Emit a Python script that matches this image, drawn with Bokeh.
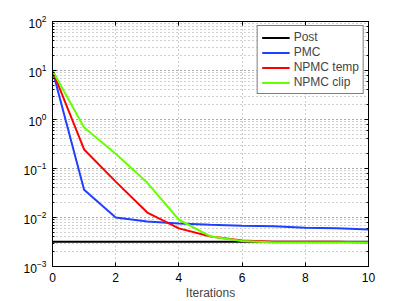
from bokeh.plotting import figure
from bokeh.models import LogAxis, LinearAxis, FixedTicker, Legend, LegendItem
from bokeh.embed import file_html
from bokeh.resources import INLINE

iterations = [0, 1, 2, 3, 4, 5, 6, 7, 8, 9, 10]
post = [0.0032] * 11
pmc = [10, 0.037, 0.010, 0.0083, 0.0075, 0.0071, 0.0068, 0.0066, 0.0062, 0.0060, 0.0057]
npmc_temp = [10, 0.245, 0.054, 0.0126, 0.0060, 0.0041, 0.0034, 0.0032, 0.0032, 0.0032, 0.0031]
npmc_clip = [10, 0.69, 0.20, 0.051, 0.0090, 0.0041, 0.0033, 0.0031, 0.0031, 0.0031, 0.0031]
x_ticks = [0, 2, 4, 6, 8, 10]

FONT = "Liberation Sans"

p = figure(width=391, height=290, y_axis_type="log", x_range=(0, 10), y_range=(1e-3, 1e2),
           output_backend="svg", toolbar_location=None,
           frame_width=316, frame_height=245,
           min_border_left=52, min_border_top=21, min_border_right=10, min_border_bottom=10)
p.outline_line_color = "black"
p.outline_line_width = 1
p.background_fill_color = "white"
p.border_fill_color = "white"

# grids
p.xgrid.grid_line_color = "#a0a0a0"
p.xgrid.grid_line_dash = "1 3"
p.xgrid.ticker = FixedTicker(ticks=x_ticks)
p.ygrid.grid_line_color = "#a0a0a0"
p.ygrid.grid_line_dash = "1 3"
p.ygrid.minor_grid_line_color = "#a0a0a0"
p.ygrid.minor_grid_line_dash = "1 3"

def style_axis(ax, labels=True):
    ax.axis_line_color = "black"
    ax.major_tick_in = 4
    ax.major_tick_out = 0
    ax.minor_tick_in = 2
    ax.minor_tick_out = 0
    ax.major_label_text_font = FONT
    ax.major_label_text_font_size = "12px"
    ax.major_label_text_color = "black" if labels else None
    ax.major_label_standoff = 6
    ax.axis_label_text_font = FONT
    ax.axis_label_text_font_size = "12px"
    ax.axis_label_text_font_style = "normal"

p.xaxis.ticker = FixedTicker(ticks=x_ticks)
p.xaxis.axis_label = "Iterations"
style_axis(p.xaxis[0])
style_axis(p.yaxis[0])
p.xaxis.axis_label_standoff = 1

top = LinearAxis(ticker=FixedTicker(ticks=x_ticks))
style_axis(top, labels=False)
top.major_label_text_font_size = "0px"
p.add_layout(top, "above")
right = LogAxis()
style_axis(right, labels=False)
right.major_label_text_font_size = "0px"
p.add_layout(right, "right")

r_post = p.line(iterations, post, line_color="black", line_width=2)
r_pmc = p.line(iterations, pmc, line_color="#2040ff", line_width=2)
r_temp = p.line(iterations, npmc_temp, line_color="#ff0000", line_width=2)
r_clip = p.line(iterations, npmc_clip, line_color="#66ff00", line_width=2)

legend = Legend(items=[
    LegendItem(label="Post", renderers=[r_post]),
    LegendItem(label="PMC", renderers=[r_pmc]),
    LegendItem(label="NPMC temp", renderers=[r_temp]),
    LegendItem(label="NPMC clip", renderers=[r_clip]),
], location="top_right")
legend.border_line_color = "black"
legend.label_text_font = FONT
legend.label_text_font_size = "12px"
legend.glyph_width = 28
legend.glyph_height = 13
legend.label_height = 13
legend.spacing = 1
legend.padding = 4
legend.margin = 4
legend.label_standoff = 4
p.add_layout(legend)

open("out.html", "w").write(file_html(p, INLINE))
